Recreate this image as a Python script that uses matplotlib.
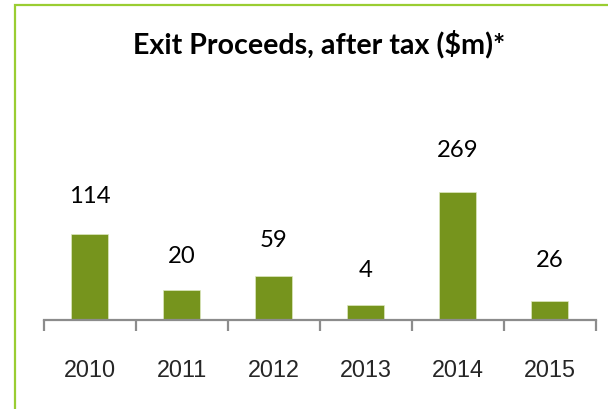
import matplotlib
matplotlib.use("Agg")
import matplotlib.pyplot as plt
from matplotlib.patches import Rectangle

# Data
years = ["2010", "2011", "2012", "2013", "2014", "2015"]
value_labels = ["114", "20", "59", "4", "269", "26"]
# bar heights as drawn in the reference (the original uses a non-proportional scale)
bar_heights = [85.7, 30.0, 44.0, 14.7, 127.4, 19.0]
title = "Exit Proceeds, after tax ($m)*"

# layout: gap between bar top and label baseline, in pixels
label_gap_px = [32.3, 28.0, 29.4, 28.7, 36.6, 35.0]

W, H, DPI = 608, 410, 100
fig = plt.figure(figsize=(W / DPI, H / DPI), dpi=DPI)
fig.patch.set_facecolor("white")

# green frame (cropped at right/bottom in reference)
fig.patches.append(Rectangle((15 / W, -0.1), 1.2, (H - 6) / H + 0.1,
                             transform=fig.transFigure, fill=False,
                             edgecolor="#9ACD32", linewidth=1.6, zorder=0))

ax_left, ax_right = 43.7, 595.7
base_y = 320.7
ax_h_px = 150.0  # 1 data unit == 1 pixel
ax = fig.add_axes([ax_left / W, (H - base_y) / H, (ax_right - ax_left) / W, ax_h_px / H])
ax.set_xlim(-0.5, len(years) - 0.5)
ax.set_ylim(0, ax_h_px)

x = list(range(len(years)))
ax.bar(x, bar_heights, width=0.4, color="#76941D", edgecolor="#DDE8C0",
       linewidth=0.5, zorder=2)

for xi, h, lab, gap in zip(x, bar_heights, value_labels, label_gap_px):
    ax.text(xi, h + gap, lab, ha="center", va="baseline", fontsize=17.2,
            family="Lato", color="#000000", clip_on=False)

for s in ["top", "right", "left"]:
    ax.spines[s].set_visible(False)
ax.spines["bottom"].set_color("#8C8C8C")
ax.spines["bottom"].set_linewidth(1.6)
ax.set_yticks([])

# ticks at category boundaries
ax.set_xticks([i - 0.5 for i in range(len(years) + 1)])
ax.set_xticklabels([])
ax.tick_params(axis="x", length=11 * 72 / DPI, width=1.6, color="#8C8C8C", direction="out")

# category labels (baseline at y=376.7 px)
for xi, yr in zip(x, years):
    ax.text(xi, -(376.7 - base_y), yr, ha="center", va="baseline", fontsize=16.8,
            family="Liberation Sans", color="#262626", clip_on=False)

fig.text(319 / W, 1 - 53.3 / H, title, ha="center", va="baseline",
         fontsize=20.6, fontweight="bold", family="Lato", color="#000000")

fig.savefig("out.png", dpi=DPI, facecolor="white")
